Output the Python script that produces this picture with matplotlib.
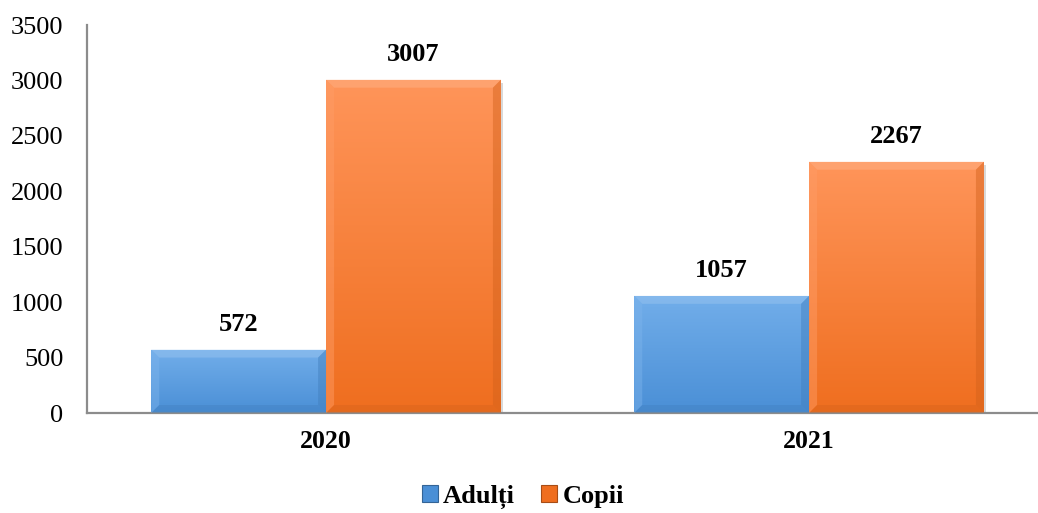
import numpy as np
import matplotlib
matplotlib.use("Agg")
import matplotlib.pyplot as plt
from matplotlib.patches import Polygon, Rectangle
from matplotlib.colors import LinearSegmentedColormap

years = ["2020", "2021"]
series_names = ["Adulți", "Copii"]
adulti = [572, 1057]
copii = [3007, 2267]
y_ticks = [0, 500, 1000, 1500, 2000, 2500, 3000, 3500]

# top/bottom gradient colours for each series
grad = {
    "Adulți": ("#72aeea", "#4a8fd6"),
    "Copii": ("#ff955a", "#ef6e1f"),
}

plt.rcParams["font.family"] = ["Liberation Serif", "DejaVu Serif"]

W, H = 1038, 513
fig = plt.figure(figsize=(W / 100, H / 100), dpi=100)
ax = fig.add_axes([87 / W, 100 / H, (W - 87) / W, 388 / H])

x = np.arange(len(years))
bw = 0.362
ax.set_xlim(-0.495, -0.495 + (W - 87) / 483)
ax.set_ylim(0, 3500)

for spine in ("top", "right"):
    ax.spines[spine].set_visible(False)
for spine in ("left", "bottom"):
    ax.spines[spine].set_color("#8c8c8c")
    ax.spines[spine].set_linewidth(1.6)

ax.set_yticks(y_ticks)
ax.set_yticklabels([str(t) for t in y_ticks], fontsize=19)
ax.set_xticks(x)
ax.set_xticklabels(years, fontsize=18.5, fontweight="bold")
ax.tick_params(axis="y", length=0, pad=17)
ax.tick_params(axis="x", length=0, pad=12)

fig.canvas.draw()
px_x = ax.transData.transform((1, 0))[0] - ax.transData.transform((0, 0))[0]
px_y = ax.transData.transform((0, 1000))[1] - ax.transData.transform((0, 0))[1]
bev_px = 8.0
bx = bev_px / px_x
by = bev_px / (px_y / 1000)


def shade(hex_color, f):
    c = np.array(matplotlib.colors.to_rgb(hex_color))
    if f >= 0:
        c = c + (1 - c) * f
    else:
        c = c * (1 + f)
    return tuple(np.clip(c, 0, 1))


def draw_bar(xl, height, name):
    top_c, bot_c = grad[name]
    # soft shadow
    ax.add_patch(Rectangle((xl + 2.5 / px_x, -3 / (px_y / 1000)), bw, height,
                           facecolor="#000000", alpha=0.15, edgecolor="none", zorder=1))
    cmap = LinearSegmentedColormap.from_list(name, [bot_c, top_c])
    g = np.linspace(0, 1, 256).reshape(-1, 1)
    im = ax.imshow(g, cmap=cmap, origin="lower", aspect="auto",
                   extent=(xl, xl + bw, 0, height), zorder=2)
    rect = Rectangle((xl, 0), bw, height, transform=ax.transData)
    im.set_clip_path(rect)
    xr = xl + bw
    # bevel faces
    faces = [
        ([(xl, height), (xr, height), (xr - bx, height - by), (xl + bx, height - by)], shade(top_c, 0.30)),
        ([(xl, 0), (xl + bx, by), (xl + bx, height - by), (xl, height)], shade(top_c, 0.08)),
        ([(xr, 0), (xr, height), (xr - bx, height - by), (xr - bx, by)], shade(bot_c, -0.12)),
        ([(xl, 0), (xr, 0), (xr - bx, by), (xl + bx, by)], shade(bot_c, -0.10)),
    ]
    for pts, col in faces:
        ax.add_patch(Polygon(pts, closed=True, facecolor=col, edgecolor="none",
                             alpha=0.45, zorder=3))
    ax.annotate(str(height), (xl + bw / 2, height), xytext=(0, 10),
                textcoords="offset points", ha="center", va="bottom",
                fontsize=19, fontweight="bold", zorder=5)


for i in range(len(years)):
    draw_bar(x[i] - bw, adulti[i], "Adulți")
    draw_bar(x[i], copii[i], "Copii")

# legend
handles = [Rectangle((0, 0), 1, 1, facecolor=grad[n][1], edgecolor=shade(grad[n][1], -0.3),
                     linewidth=0.8) for n in series_names]
fig.legend(handles, series_names, loc="center", bbox_to_anchor=(523 / W, 1 - 497 / H),
           ncol=2, frameon=False, handlelength=0.6, handleheight=0.6,
           handletextpad=0.2, columnspacing=1.0,
           prop={"family": "Liberation Serif", "weight": "bold", "size": 19})

fig.savefig("out.png", dpi=100)
